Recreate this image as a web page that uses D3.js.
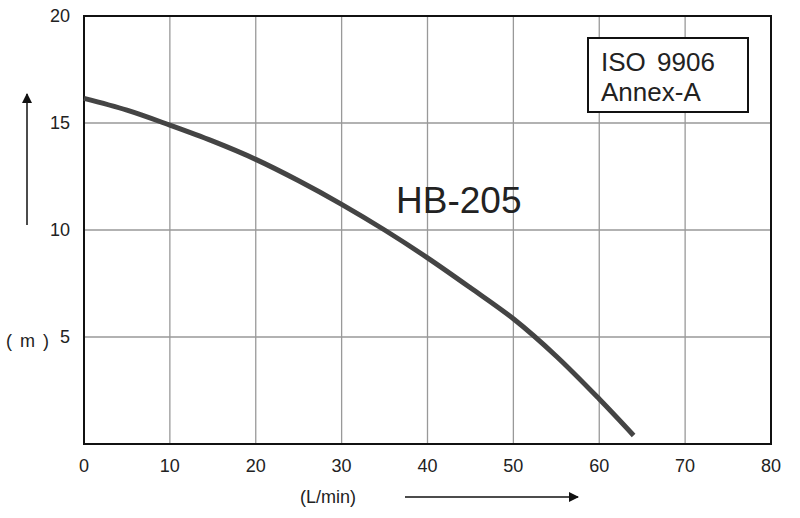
<!DOCTYPE html><html><head><meta charset="utf-8">
<script src="https://cdn.jsdelivr.net/npm/d3@7"></script>
<style>body{margin:0;background:#fff}</style></head><body><svg width="800" height="518"></svg>
<script>
const flow=[0,5,10,15,20,25,30,35,40,45,50,55,60,64];
const head=[16.15,15.6,14.9,14.15,13.3,12.3,11.2,10.0,8.7,7.3,5.85,4.1,2.1,0.4];
const xTicks=[0,10,20,30,40,50,60,70,80];
const yTicks=[5,10,15,20];
const svg=d3.select("svg");
const x=d3.scaleLinear().domain([0,80]).range([84,771]);
const y=d3.scaleLinear().domain([0,20]).range([444,16]);
const font="'Liberation Sans','DejaVu Sans',sans-serif";
svg.append("g").selectAll("line").data(xTicks.slice(1,-1)).join("line")
 .attr("x1",d=>x(d)).attr("x2",d=>x(d)).attr("y1",y(20)).attr("y2",y(0)).attr("stroke","#999").attr("stroke-width",1.3);
svg.append("g").selectAll("line").data(yTicks.slice(0,-1)).join("line")
 .attr("y1",d=>y(d)).attr("y2",d=>y(d)).attr("x1",x(0)).attr("x2",x(80)).attr("stroke","#999").attr("stroke-width",1.3);
svg.append("rect").attr("x",x(0)).attr("y",y(20)).attr("width",x(80)-x(0)).attr("height",y(0)-y(20)).attr("fill","none").attr("stroke","#111").attr("stroke-width",2);
svg.append("g").selectAll("text").data(xTicks).join("text").attr("x",d=>x(d)).attr("y",472).attr("text-anchor","middle")
 .attr("font-family",font).attr("font-size",18).attr("fill","#222").text(d=>d);
svg.append("g").selectAll("text").data(yTicks).join("text").attr("x",70).attr("y",d=>y(d)+6).attr("text-anchor","end")
 .attr("font-family",font).attr("font-size",18).attr("fill","#222").text(d=>d);
svg.append("path").datum(flow.map((f,i)=>[f,head[i]])).attr("d",d3.line().x(d=>x(d[0])).y(d=>y(d[1])).curve(d3.curveCatmullRom))
 .attr("fill","none").attr("stroke","#444").attr("stroke-width",5);
svg.append("text").attr("x",396).attr("y",213).attr("font-family",font).attr("font-size",37).attr("fill","#222").text("HB-205");
svg.append("rect").attr("x",588).attr("y",38).attr("width",160).attr("height",74).attr("fill","#fff").attr("stroke","#111").attr("stroke-width",2);
svg.append("text").attr("x",601).attr("y",71).attr("font-family",font).attr("font-size",26).attr("fill","#222").attr("word-spacing",4).text("ISO 9906");
svg.append("text").attr("x",601).attr("y",101).attr("font-family",font).attr("font-size",26).attr("fill","#222").text("Annex-A");
svg.append("text").attr("x",6).attr("y",347).attr("font-family",font).attr("font-size",18).attr("fill","#222").attr("word-spacing",3).text("( m )");
svg.append("text").attr("x",300).attr("y",503).attr("font-family",font).attr("font-size",18).attr("fill","#222").text("(L/min)");
svg.append("defs").append("marker").attr("id","ah").attr("viewBox","0 0 10 10").attr("refX",9).attr("refY",5)
 .attr("markerWidth",10).attr("markerHeight",10).attr("markerUnits","userSpaceOnUse").attr("orient","auto")
 .append("path").attr("d","M0,0L10,5L0,10Z").attr("fill","#111");
svg.append("line").attr("x1",27).attr("y1",225).attr("x2",27).attr("y2",94).attr("stroke","#111").attr("stroke-width",1.5).attr("marker-end","url(#ah)");
svg.append("line").attr("x1",405).attr("y1",497).attr("x2",578).attr("y2",497).attr("stroke","#111").attr("stroke-width",1.5).attr("marker-end","url(#ah)");
</script></body></html>
